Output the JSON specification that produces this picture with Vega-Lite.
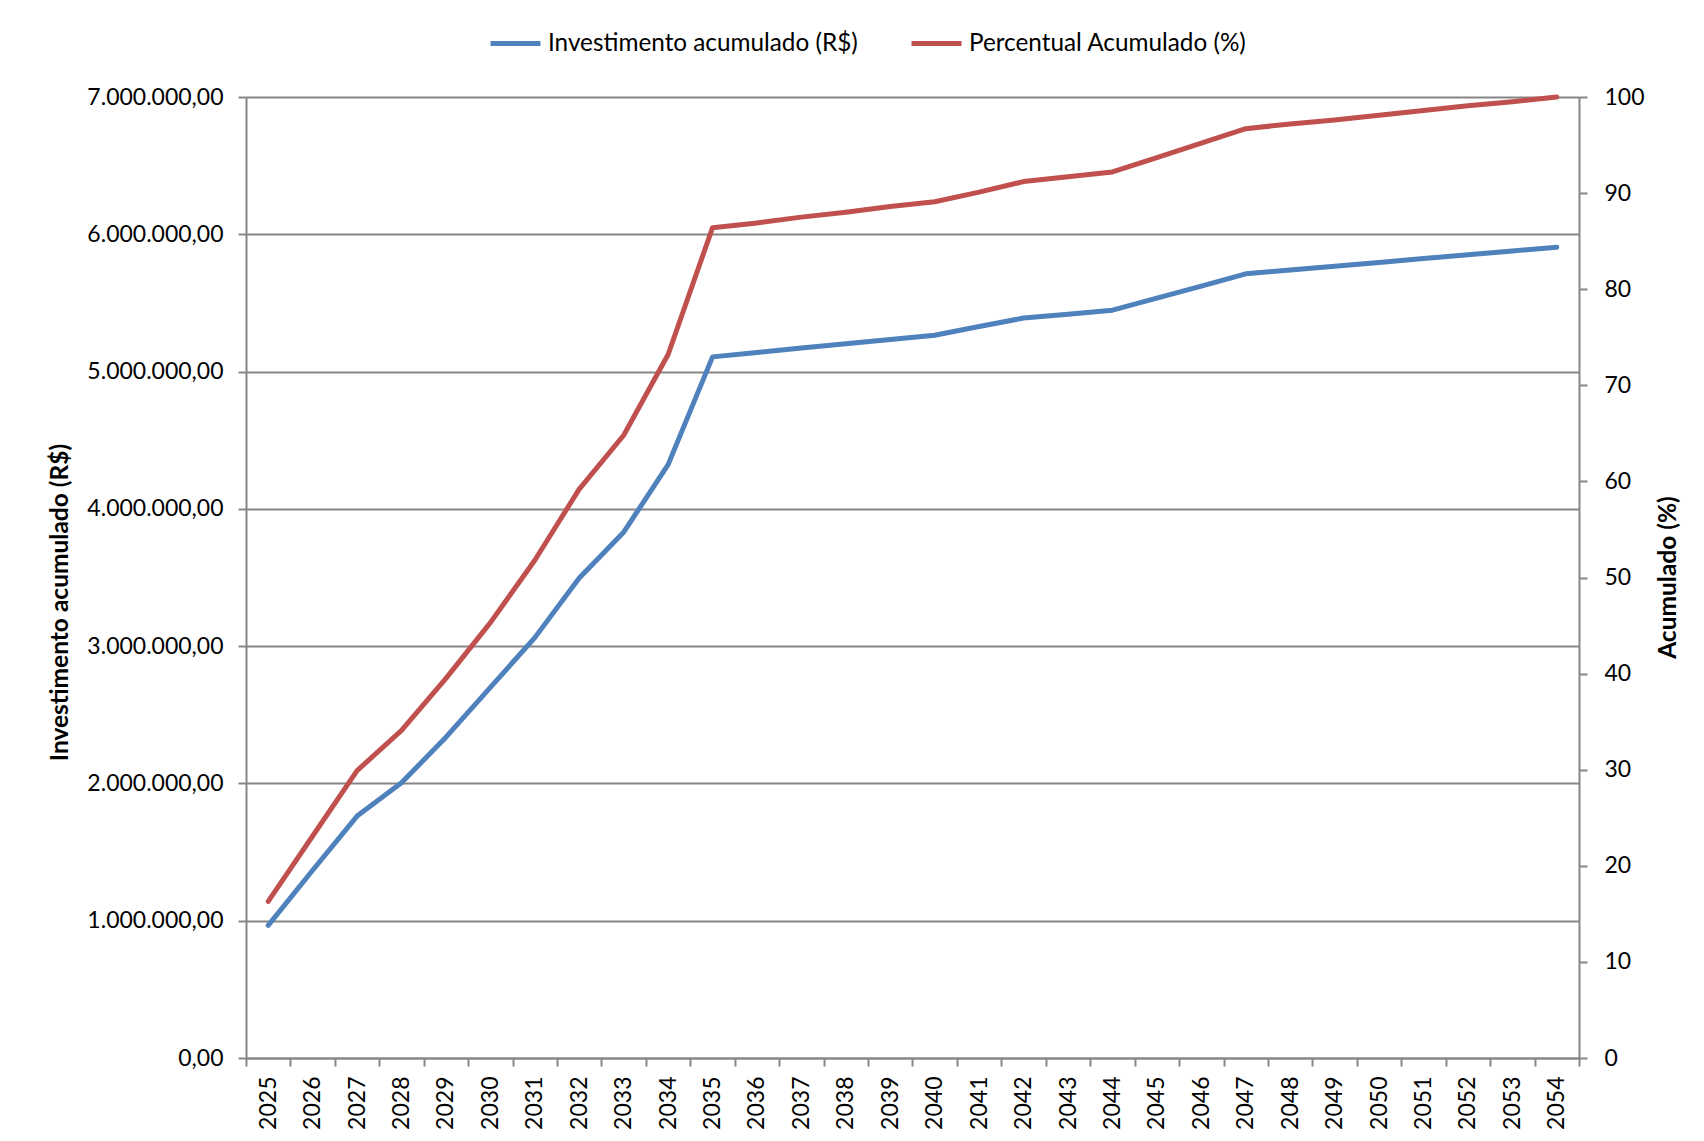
{
  "$schema": "https://vega.github.io/schema/vega-lite/v6.json",
  "width": 1333,
  "height": 961,
  "autosize": "none",
  "padding": {"left": 246, "top": 97, "right": 125, "bottom": 83},
  "background": "white",
  "config": {
    "locale": {"number": {"decimal": ",", "thousands": ".", "grouping": [3], "currency": ["R$", ""]}},
    "view": {"stroke": null},
    "font": "Lato",
    "axis": {
      "labelFont": "Lato",
      "labelFontSize": 23,
      "labelColor": "#000000",
      "titleFont": "Lato",
      "titleFontSize": 24.5,
      "titleFontWeight": "bold",
      "titleColor": "#000000",
      "domainColor": "#868686",
      "domainWidth": 2,
      "tickColor": "#868686",
      "tickWidth": 2,
      "tickSize": 8,
      "gridColor": "#868686",
      "gridWidth": 2
    }
  },
  "data": {
    "values": [
      {"ano": "2025", "investimento": 966000, "percentual": 16.3},
      {"ano": "2026", "investimento": 1368000, "percentual": 23.1},
      {"ano": "2027", "investimento": 1762000, "percentual": 29.9},
      {"ano": "2028", "investimento": 2005000, "percentual": 34.1},
      {"ano": "2029", "investimento": 2337000, "percentual": 39.5},
      {"ano": "2030", "investimento": 2700000, "percentual": 45.3},
      {"ano": "2031", "investimento": 3062000, "percentual": 51.8},
      {"ano": "2032", "investimento": 3497000, "percentual": 59.2},
      {"ano": "2033", "investimento": 3830000, "percentual": 64.8},
      {"ano": "2034", "investimento": 4322000, "percentual": 73.2},
      {"ano": "2035", "investimento": 5107000, "percentual": 86.4},
      {"ano": "2036", "investimento": 5139000, "percentual": 86.9},
      {"ano": "2037", "investimento": 5171000, "percentual": 87.5},
      {"ano": "2038", "investimento": 5203000, "percentual": 88.0},
      {"ano": "2039", "investimento": 5234000, "percentual": 88.6},
      {"ano": "2040", "investimento": 5265000, "percentual": 89.1},
      {"ano": "2041", "investimento": 5328000, "percentual": 90.1},
      {"ano": "2042", "investimento": 5390000, "percentual": 91.2},
      {"ano": "2043", "investimento": 5418000, "percentual": 91.7},
      {"ano": "2044", "investimento": 5447000, "percentual": 92.2},
      {"ano": "2045", "investimento": 5535000, "percentual": 93.7},
      {"ano": "2046", "investimento": 5623000, "percentual": 95.2},
      {"ano": "2047", "investimento": 5712000, "percentual": 96.7},
      {"ano": "2048", "investimento": 5740000, "percentual": 97.2},
      {"ano": "2049", "investimento": 5767000, "percentual": 97.6},
      {"ano": "2050", "investimento": 5795000, "percentual": 98.1},
      {"ano": "2051", "investimento": 5823000, "percentual": 98.6},
      {"ano": "2052", "investimento": 5851000, "percentual": 99.1},
      {"ano": "2053", "investimento": 5878000, "percentual": 99.5},
      {"ano": "2054", "investimento": 5906000, "percentual": 100.0}
    ]
  },
  "encoding": {
    "x": {
      "field": "ano",
      "type": "ordinal",
      "sort": null,
      "scale": {"paddingInner": 0, "paddingOuter": 0},
      "axis": {
        "title": null,
        "labelAngle": -90,
        "labelAlign": "right",
        "labelBaseline": "middle",
        "labelPadding": 10,
        "tickBand": "extent",
        "grid": false
      }
    }
  },
  "layer": [
    {
      "mark": {"type": "line", "strokeWidth": 5, "strokeCap": "round", "strokeJoin": "round"},
      "encoding": {
        "y": {
          "field": "investimento",
          "type": "quantitative",
          "scale": {"domain": [0, 7000000], "nice": false},
          "axis": {
            "title": "Investimento acumulado (R$)",
            "values": [0, 1000000, 2000000, 3000000, 4000000, 5000000, 6000000, 7000000],
            "format": ",.2f",
            "grid": true,
            "labelPadding": 15,
            "labelBaseline": "middle",
            "titleAngle": 270,
            "titleX": -186,
            "titleY": 505,
            "titleAlign": "center",
            "titleBaseline": "middle"
          }
        },
        "color": {
          "datum": "Investimento acumulado (R$)",
          "type": "nominal",
          "scale": {
            "domain": ["Investimento acumulado (R$)", "Percentual Acumulado (%)"],
            "range": ["#4F81BD", "#C0504D"]
          },
          "legend": {
            "orient": "none",
            "direction": "horizontal",
            "legendX": 242,
            "legendY": -81,
            "title": null,
            "padding": 0,
            "symbolType": "stroke",
            "symbolSize": 2500,
            "symbolStrokeWidth": 5,
            "labelFont": "Lato",
            "labelFontSize": 24.3,
            "labelColor": "#000000",
            "labelOffset": 5,
            "columnPadding": 43,
            "labelLimit": 500
          }
        }
      }
    },
    {
      "mark": {"type": "line", "strokeWidth": 5, "strokeCap": "round", "strokeJoin": "round"},
      "encoding": {
        "y": {
          "field": "percentual",
          "type": "quantitative",
          "scale": {"domain": [0, 100], "nice": false},
          "axis": {
            "orient": "right",
            "title": "Acumulado (%)",
            "values": [0, 10, 20, 30, 40, 50, 60, 70, 80, 90, 100],
            "grid": false,
            "labelPadding": 17,
            "labelBaseline": "middle",
            "titleAngle": 270,
            "titleX": 89,
            "titleY": 480,
            "titleAlign": "center",
            "titleBaseline": "middle"
          }
        },
        "color": {"datum": "Percentual Acumulado (%)", "type": "nominal"}
      }
    }
  ],
  "resolve": {"scale": {"y": "independent"}}
}
